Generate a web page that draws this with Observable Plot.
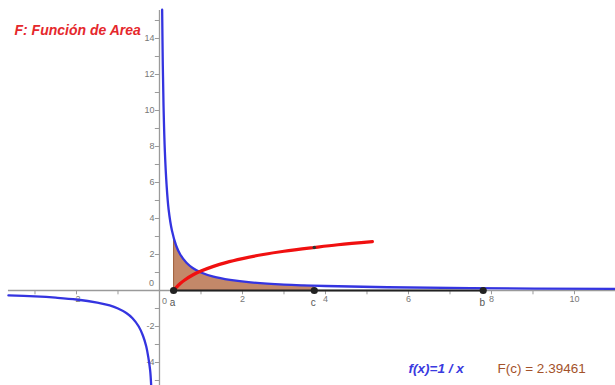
<!DOCTYPE html>
<html>
<head>
<meta charset="utf-8">
<script src="https://cdn.jsdelivr.net/npm/d3@7"></script>
<script src="https://cdn.jsdelivr.net/npm/@observablehq/plot@0.6"></script>
<style>
  body { margin: 0; background: #fff; }
  #chart svg { display: block; }
</style>
</head>
<body>
<div id="chart"></div>
<script>
// ---- data ----
// f(x) = 1/x, positive branch (sample points)
const posX = [0.064, 0.08, 0.1, 0.13, 0.17, 0.22, 0.3, 0.4, 0.5, 0.65, 0.8, 1, 1.3, 1.7, 2.2, 3, 4, 5.5, 7.5, 11];
const posY = [15.6, 12.5, 10, 7.7, 5.9, 4.5, 3.33, 2.5, 2, 1.54, 1.25, 1, 0.77, 0.59, 0.45, 0.33, 0.25, 0.18, 0.13, 0.09];
// negative branch
const negX = [-3.64, -3, -2.5, -2, -1.5, -1.2, -1, -0.8, -0.65, -0.5, -0.4, -0.32, -0.27, -0.225, -0.2];
const negY = [-0.27, -0.33, -0.4, -0.5, -0.67, -0.83, -1, -1.25, -1.54, -2, -2.5, -3.1, -3.7, -4.44, -5.28];
// F: área function (red)
const areaFnX = [0.34, 0.4, 0.5, 0.6, 0.8, 1, 1.3, 1.6, 2, 2.5, 3, 3.73, 4.3, 5.13];
const areaFnY = [0, 0.16, 0.39, 0.57, 0.86, 1.08, 1.34, 1.55, 1.77, 2.0, 2.18, 2.39, 2.54, 2.71];
// shaded region under f from a to c
const shadeX = [0.34, 0.4, 0.5, 0.65, 0.8, 1, 1.3, 1.7, 2.2, 3, 3.73];
const shadeY = [2.94, 2.5, 2, 1.54, 1.25, 1, 0.77, 0.59, 0.45, 0.33, 0.27];
// points on the x axis
const pointNames = ["a", "c", "b"];
const pointX = [0.34, 3.73, 7.8];
const Fc = 2.39;
// axes
const xTickLabels = [-2, 2, 4, 6, 8, 10];
const xMinor = [-3, -2, -1, 1, 2, 3, 4, 5, 6, 7, 8, 9, 10];
const yTickLabels = [14, 12, 10, 8, 6, 4, 2, -2, -4];
const yMinor = [15, 14, 13, 12, 11, 10, 9, 8, 7, 6, 5, 4, 3, 2, 1, -1, -2, -3, -4, -5];
const titleText = "F: Función de Area";
const fText = "f(x)=1 / x";
const FcText = "F(c) = 2.39461";

const zip = (xs, ys) => xs.map((x, i) => ({x, y: ys[i]}));
const pos = zip(posX, posY);
const neg = zip(negX, negY);
const Fpts = zip(areaFnX, areaFnY);
const shade = zip(shadeX, shadeY);
const pts = pointNames.map((n, i) => ({name: n, x: pointX[i], y: 0}));

const axisColor = "#9a9a9a";
const labColor = "#777";

const chart = Plot.plot({
  width: 615,
  height: 385,
  margin: 0,
  style: {background: "#fff", fontFamily: "Liberation Sans, Arial, sans-serif"},
  x: {domain: [-3.831, 10.988], axis: null},
  y: {domain: [-5.278, 16.111], axis: null},
  marks: [
    // axes
    Plot.ruleY([0], {x1: -3.64, x2: 10.99, stroke: axisColor, strokeWidth: 1.3}),
    Plot.ruleX([0], {y1: -5.28, y2: 15.56, stroke: axisColor, strokeWidth: 1.3}),
    Plot.ruleX(xMinor, {x: d => d, y1: 0, y2: -0.24, stroke: axisColor, strokeWidth: 1}),
    Plot.ruleY(yMinor, {y: d => d, x1: 0, x2: -0.1, stroke: axisColor, strokeWidth: 1}),
    Plot.text(xTickLabels, {x: d => d, y: 0, text: d => String(d), dy: 9, fill: labColor, fontSize: 9}),
    Plot.text(yTickLabels, {x: 0, y: d => d, text: d => String(d), dx: -5, textAnchor: "end", fill: labColor, fontSize: 9}),
    Plot.text(["0"], {x: 0, y: 0, dx: -8, dy: -7, fill: labColor, fontSize: 9}),
    Plot.text(["0"], {x: 0, y: 0, dx: 5, dy: 11, fill: labColor, fontSize: 9}),
    // shaded area
    Plot.areaY(shade, {x: "x", y: "y", curve: "catmull-rom", fill: "#b8734f", fillOpacity: 0.85}),
    Plot.ruleX([shadeX[0]], {y1: 0, y2: shadeY[0], stroke: "#a0603e", strokeWidth: 1}),
    // segment a to b
    Plot.ruleY([0], {x1: pointX[0], x2: pointX[2], stroke: "#222", strokeWidth: 2}),
    // f(x) = 1/x
    Plot.line(pos, {x: "x", y: "y", curve: "catmull-rom", stroke: "#3434e0", strokeWidth: 2.3}),
    Plot.line(neg, {x: "x", y: "y", curve: "catmull-rom", stroke: "#3434e0", strokeWidth: 2.3}),
    // F area function
    Plot.line(Fpts, {x: "x", y: "y", curve: "catmull-rom", stroke: "#f01010", strokeWidth: 3.2}),
    // points
    Plot.dot(pts, {x: "x", y: "y", r: 3.6, fill: "#222"}),
    Plot.dot([{x: pointX[1], y: Fc}], {x: "x", y: "y", r: 1.8, fill: "#333"}),
    Plot.text(pts, {x: "x", y: "y", text: "name", dx: -1, dy: 12, fill: "#555", fontSize: 10}),
    // texts
    Plot.text([titleText], {frameAnchor: "top-left", dx: 14, dy: 25, textAnchor: "start", fill: "#e5282c", fontWeight: "bold", fontStyle: "italic", fontSize: 14}),
    Plot.text([fText], {frameAnchor: "top-left", dx: 408, dy: 363, textAnchor: "start", fill: "#3a3ae0", fontWeight: "bold", fontStyle: "italic", fontSize: 13.5}),
    Plot.text([FcText], {frameAnchor: "top-left", dx: 497, dy: 363, textAnchor: "start", fill: "#a3522a", fontWeight: 500, fontSize: 13.5})
  ]
});
document.getElementById("chart").append(chart);
</script>
</body>
</html>
